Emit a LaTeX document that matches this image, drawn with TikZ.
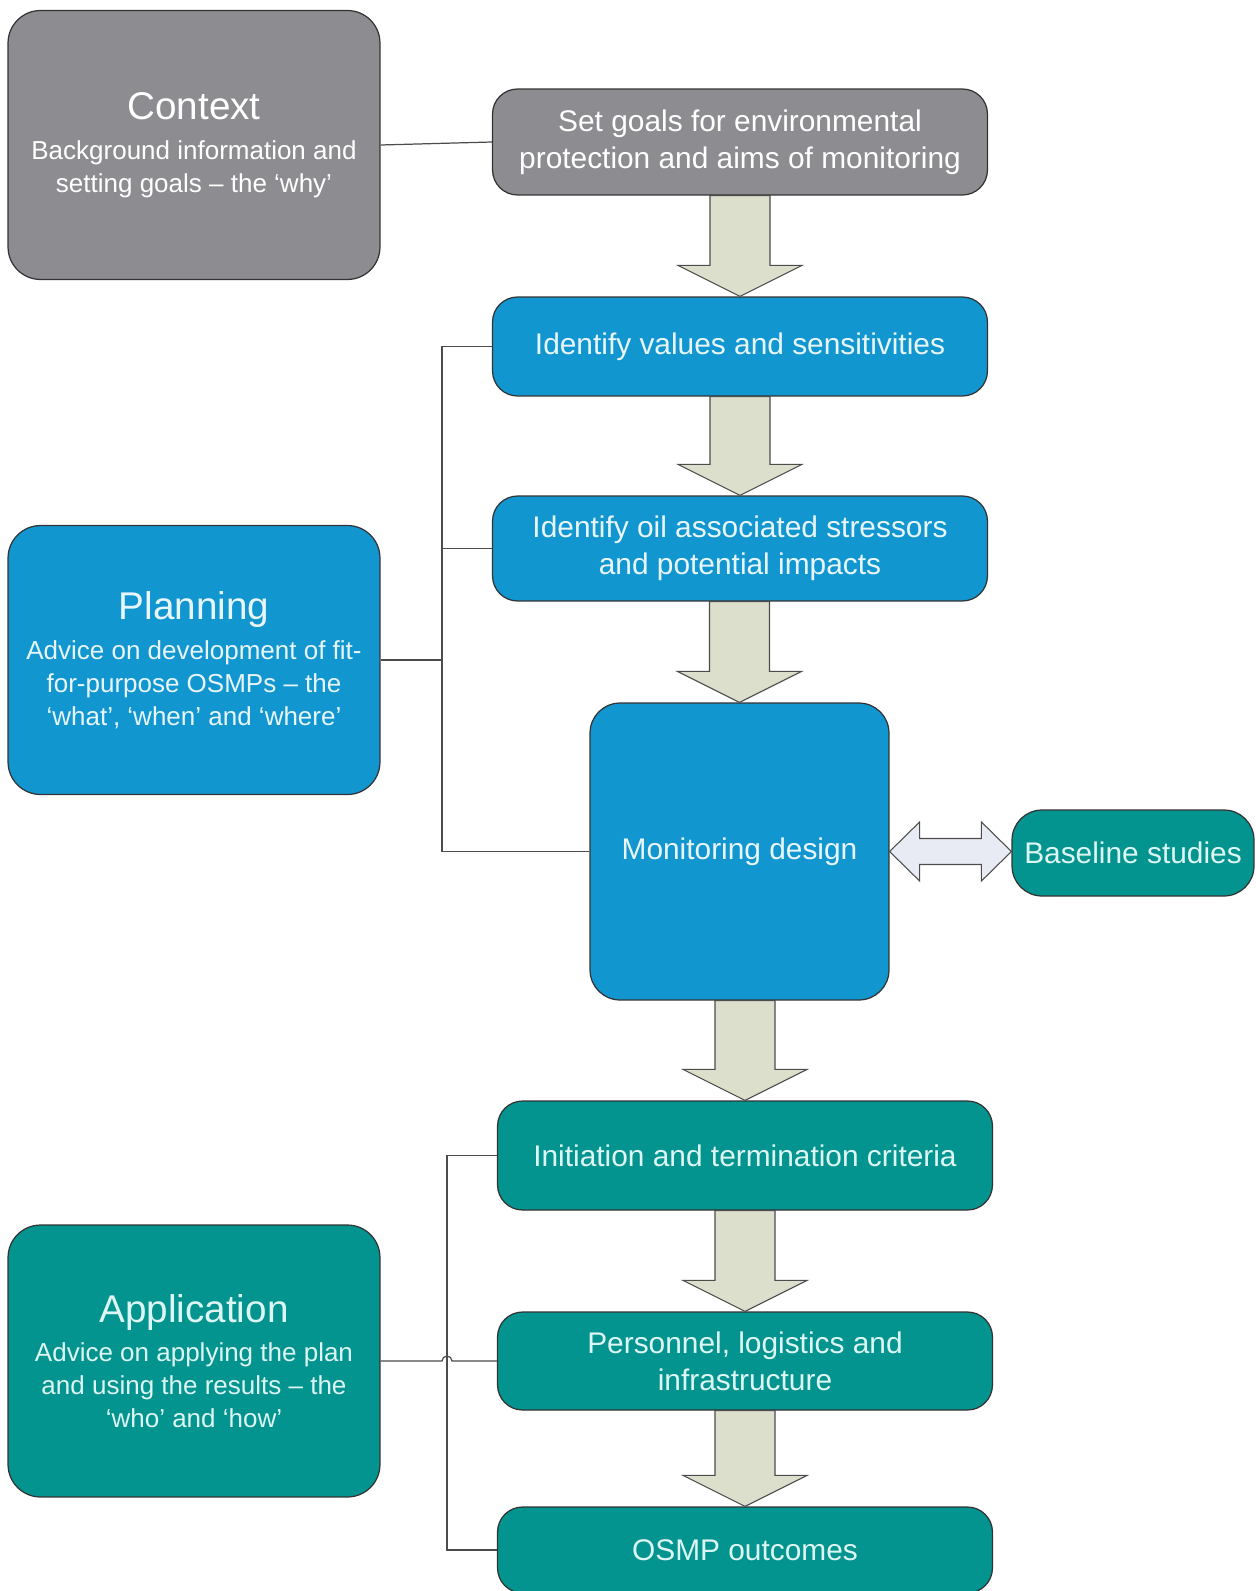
\documentclass[tikz,border=0pt]{standalone}
\usepackage{fontspec}
\setmainfont{Liberation Sans}
\usetikzlibrary{calc}
\definecolor{ctxgray}{HTML}{8D8D91}
\definecolor{planblue}{HTML}{1196D0}
\definecolor{appteal}{HTML}{03948F}
\definecolor{bluetext}{HTML}{E8F6FC}
\definecolor{tealtext}{HTML}{DDF6F3}
\definecolor{arrowfill}{HTML}{DCDFCB}
\definecolor{dblfill}{HTML}{E8EBF3}
\begin{document}
\begin{tikzpicture}[x=0.02cm,y=-0.02cm,
  every node/.style={font=\fontsize{17}{21}\selectfont},
  box/.style={draw=black!80,line width=0.7pt,rounded corners=0.5cm,align=center,inner sep=0pt},
  graybox/.style={box,fill=ctxgray,text=white},
  bluebox/.style={box,fill=planblue,text=bluetext},
  tealbox/.style={box,fill=appteal,text=tealtext},
  sidebox/.style={minimum width=7.44cm,minimum height=5.38cm,rounded corners=0.65cm,font=\fontsize{14.8}{18.7}\selectfont},
  stepbox/.style={minimum width=9.9cm},
  link/.style={draw=black!70,line width=0.7pt},
  blockarr/.style={draw=black!70,line width=0.6pt,fill=arrowfill,line join=miter},
  dblarr/.style={draw=black!70,line width=0.6pt,fill=dblfill,line join=miter}]
\useasboundingbox (0,0) rectangle (1256,1591);
% Left column: the three phases
\node[graybox,sidebox] (context) at (194,145) {{\fontsize{22}{26}\selectfont Context}\\[4pt] Background information and\\ setting goals – the ‘why’};
\node[bluebox,sidebox] (plan) at (194,660) {{\fontsize{22}{26}\selectfont Planning}\\[4pt] Advice on development of fit-\\ for-purpose OSMPs – the\\ ‘what’, ‘when’ and ‘where’};
\node[tealbox,sidebox,minimum height=5.44cm] (app) at (194,1361) {{\fontsize{22}{26}\selectfont Application}\\[4pt] Advice on applying the plan\\ and using the results – the\\ ‘who’ and ‘how’};
% Right column: the steps
\node[graybox,stepbox,minimum height=2.12cm] (goals) at (740,142) {Set goals for environmental\\ protection and aims of monitoring};
\node[bluebox,stepbox,minimum height=1.98cm] (values) at (740,346.5) {Identify values and sensitivities};
\node[bluebox,stepbox,minimum height=2.1cm] (stress) at (740,548.5) {Identify oil associated stressors\\ and potential impacts};
\node[bluebox,minimum width=5.98cm,minimum height=5.94cm,rounded corners=0.6cm] (design) at (739.5,851.5) {Monitoring design};
\node[tealbox,minimum width=4.84cm,minimum height=1.72cm,rounded corners=0.6cm] (base) at (1133,853) {Baseline studies};
\node[tealbox,stepbox,minimum height=2.18cm] (trigger) at (745,1155.5) {Initiation and termination criteria};
\node[tealbox,stepbox,minimum height=1.96cm] (people) at (745,1361) {Personnel, logistics and\\ infrastructure};
\node[tealbox,stepbox,minimum height=1.72cm] (outcome) at (745,1550) {OSMP outcomes};
% block arrows between steps
\foreach \a/\b in {goals/values,values/stress,stress/design,design/trigger,trigger/people,people/outcome}{
  \coordinate (top) at (\a.south -| \b.north);
  \draw[blockarr] ($(top)+(-0.6cm,0)$) -- ($(\b.north)+(-0.6cm,0.62cm)$) -- ($(\b.north)+(-1.24cm,0.62cm)$) -- (\b.north)
    -- ($(\b.north)+(1.24cm,0.62cm)$) -- ($(\b.north)+(0.6cm,0.62cm)$) -- ($(top)+(0.6cm,0)$) -- cycle;
}
\coordinate (dl) at (design.east);
\coordinate (dr) at (base.west |- design.east);
\draw[dblarr] (dl) -- ($(dl)+(0.6cm,0.59cm)$) -- ($(dl)+(0.6cm,0.26cm)$) -- ($(dr)+(-0.6cm,0.26cm)$) -- ($(dr)+(-0.6cm,0.59cm)$) -- (dr)
  -- ($(dr)+(-0.6cm,-0.59cm)$) -- ($(dr)+(-0.6cm,-0.26cm)$) -- ($(dl)+(0.6cm,-0.26cm)$) -- ($(dl)+(0.6cm,-0.59cm)$) -- cycle;
% brackets
\draw[link] (context.east) -- (goals.west);
\coordinate (pbar) at (442,346);
\draw[link] (values.west) -| (pbar |- design.west) -- (design.west);
\draw[link] (stress.west) -- (pbar |- stress.west);
\draw[link] (plan.east) -- (pbar |- plan.east);
\coordinate (abar) at (447,1155);
\draw[link] (trigger.west) -| (abar |- outcome.west) -- (outcome.west);
\draw[link] (app.east) -- ($(abar |- app.east)+(-0.1cm,0)$) arc[start angle=180,end angle=0,radius=0.1cm] -- (people.west);
\end{tikzpicture}
\end{document}
